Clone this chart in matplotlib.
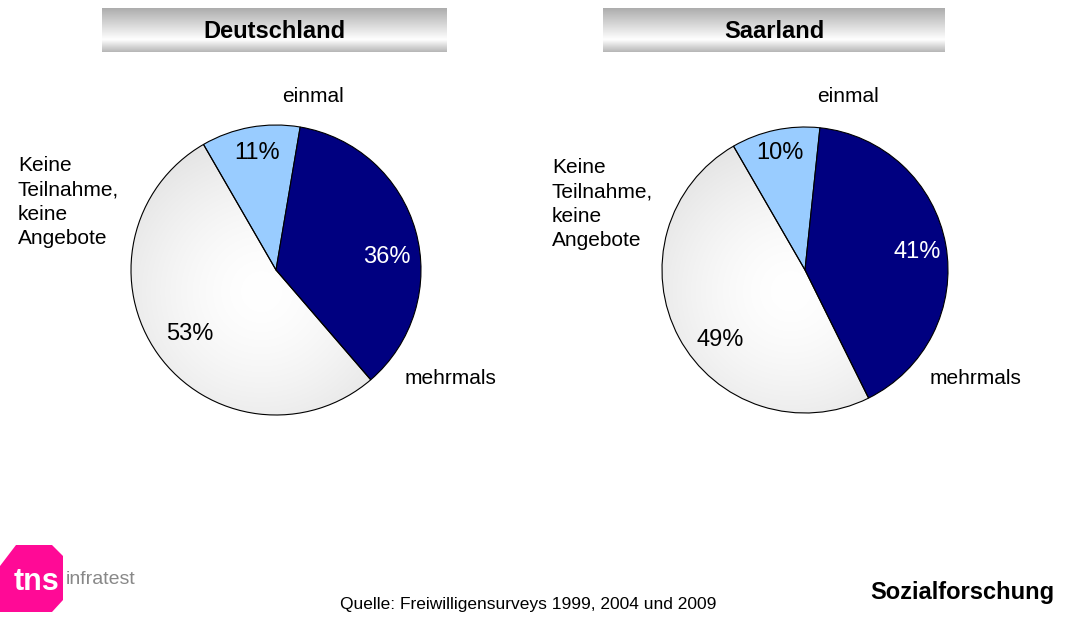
import numpy as np
import matplotlib.pyplot as plt
from matplotlib.patches import Polygon

plt.rcParams['font.family'] = ['Liberation Sans', 'DejaVu Sans']

# Daten
kategorien = ['einmal', 'mehrmals', 'Keine\nTeilnahme,\nkeine\nAngebote']
titel = ['Deutschland', 'Saarland']
werte_de = [11, 36, 53]
werte_saar = [10, 41, 49]
farben = ['#99CCFF', '#000080', '#F0F0F0']

W, H = 1081, 624
fig = plt.figure(figsize=(W / 100, H / 100), dpi=100)
ax = fig.add_axes([0, 0, 1, 1])

def Y(y):
    return H - y

# Layout pro Kreis: Mittelpunkt, Radius, Titelbalken, Textpositionen
layouts = [
    dict(c=(276, 270), r=145, bar=(102, 447),
         pct=[(257, 153), (387, 257), (190, 334)],
         lab=[(313, 96), (405, 378), (18, 156)]),
    dict(c=(805, 270), r=143, bar=(603, 945),
         pct=[(780, 153), (917, 252), (720, 340)],
         lab=[(848, 96), (930, 378), (552, 158)]),
]

# vertikaler Verlauf fuer die Titelbalken
t = np.linspace(0, 1, 60)
grau = np.interp(t, [0, 0.72, 1], [0.68, 1.0, 0.72])
balken = np.dstack([grau, grau, grau]).reshape(60, 1, 3)

for werte, name, lay in zip([werte_de, werte_saar], titel, layouts):
    cx, cy = lay['c']
    wedges, _ = ax.pie(werte, colors=farben, startangle=120, counterclock=False,
                       center=(cx, Y(cy)), radius=lay['r'], frame=True,
                       wedgeprops=dict(edgecolor='black', linewidth=0.8))
    # radialer Verlauf im grauen Segment
    r = lay['r']
    gx, gy = np.meshgrid(np.linspace(-1, 1, 200), np.linspace(-1, 1, 200))
    d = np.sqrt((gx + 0.1) ** 2 + (gy + 0.15) ** 2)
    v = np.clip(1.0 - 0.09 * d ** 1.6, 0.87, 1.0)
    img = ax.imshow(np.dstack([v, v, v]), extent=(cx - r, cx + r, Y(cy) - r, Y(cy) + r),
                    origin='lower', zorder=wedges[2].get_zorder() - 0.1, interpolation='bilinear')
    img.set_clip_path(wedges[2])
    wedges[2].set_facecolor('none')

    for i, (px, py) in enumerate(lay['pct']):
        ax.text(px, Y(py), f'{werte[i]}%', fontsize=17, ha='center', va='center',
                color='white' if i == 1 else 'black', zorder=10)
    lx, ly = lay['lab'][0]
    ax.text(lx, Y(ly), kategorien[0], fontsize=15, ha='center', va='center')
    lx, ly = lay['lab'][1]
    ax.text(lx, Y(ly), kategorien[1], fontsize=15, ha='left', va='center')
    lx, ly = lay['lab'][2]
    ax.text(lx, Y(ly), kategorien[2], fontsize=15, ha='left', va='top', linespacing=1.35)

    x0, x1 = lay['bar']
    ax.imshow(balken, extent=(x0, x1, Y(52), Y(8)), aspect='auto', zorder=1)
    ax.text((x0 + x1) / 2, Y(32), name, fontsize=17, fontweight='bold',
            ha='center', va='center', zorder=2)

# Logo
logo = Polygon([(0, Y(566)), (16, Y(545)), (52, Y(545)), (63, Y(556)),
                (63, Y(600)), (52, Y(612)), (0, Y(612))],
               closed=True, facecolor='#FF0A96', edgecolor='none')
ax.add_patch(logo)
ax.text(14, Y(582), 'tns', fontsize=22, fontweight='bold', color='white',
        ha='left', va='center')
ax.text(66, Y(580), 'infratest', fontsize=14, color='#888888', ha='left', va='center')

ax.text(528, Y(604), 'Quelle: Freiwilligensurveys 1999, 2004 und 2009', fontsize=12.5,
        ha='center', va='center')
ax.text(1054, Y(593), 'Sozialforschung', fontsize=17, fontweight='bold',
        ha='right', va='center')

ax.set_xlim(0, W)
ax.set_ylim(0, H)
ax.set_aspect('auto')
ax.axis('off')

fig.savefig('out.png', dpi=100, facecolor='white')
